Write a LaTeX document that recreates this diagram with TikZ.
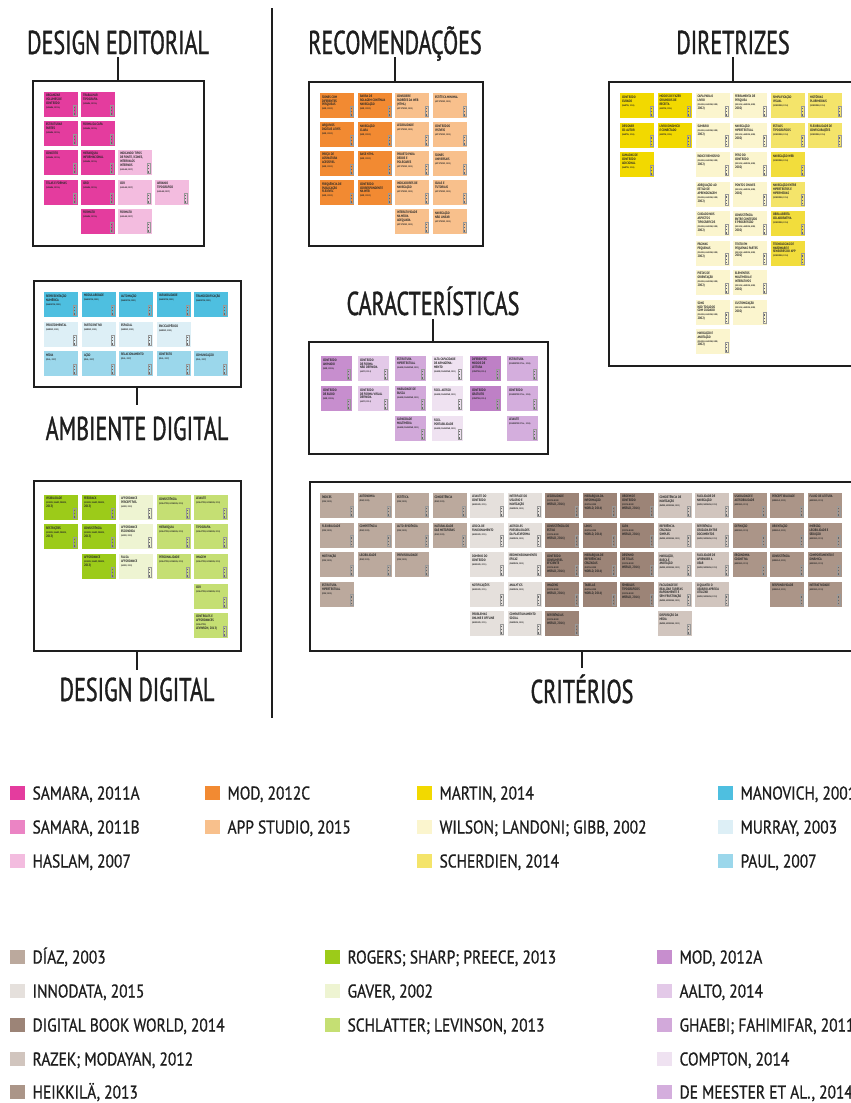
\documentclass[tikz,border=0pt]{standalone}
\usepackage{fontspec}
\setmainfont{PT Sans}
\newfontfamily\headfont[FakeStretch=0.67, FakeBold=1.0]{PT Sans}
\newfontfamily\legfont[FakeStretch=0.835, FakeBold=0.8]{PT Sans}
\newfontfamily\notefont[FakeStretch=0.82]{PT Sans}
\newcommand\reffont{\fontsize{2.2}{2.6}\selectfont}

% source colours
\definecolor{pkA}{HTML}{E43C9E}
\definecolor{pkB}{HTML}{EB84C4}
\definecolor{pkC}{HTML}{F3BCDF}
\definecolor{orA}{HTML}{F28A32}
\definecolor{orB}{HTML}{F8C08C}
\definecolor{yeA}{HTML}{F2D900}
\definecolor{yeB}{HTML}{FBF5CE}
\definecolor{yeC}{HTML}{F4E46A}
\definecolor{yeD}{HTML}{F2DD3C}
\definecolor{blA}{HTML}{4EBFE0}
\definecolor{blB}{HTML}{DDEFF6}
\definecolor{blC}{HTML}{9BD7EB}
\definecolor{taA}{HTML}{BBA99D}
\definecolor{taB}{HTML}{E5E0DC}
\definecolor{taC}{HTML}{9C8477}
\definecolor{taD}{HTML}{D1C5BE}
\definecolor{taE}{HTML}{AB9588}
\definecolor{grA}{HTML}{9CCB19}
\definecolor{grB}{HTML}{EEF4D2}
\definecolor{grC}{HTML}{C5DF73}
\definecolor{puA}{HTML}{C78ECE}
\definecolor{puB}{HTML}{E3C9E8}
\definecolor{puC}{HTML}{D2A9DA}
\definecolor{puD}{HTML}{EFE2F1}
\definecolor{puE}{HTML}{D4AEDD}
\definecolor{puF}{HTML}{BE80C6}
\definecolor{ink}{HTML}{1E1E1E}

\tikzset{
  frame/.style={draw=ink, line width=2.2pt, anchor=north west, inner sep=0pt},
  head/.style={font=\headfont\fontsize{33}{36}\selectfont, text=ink, inner sep=0pt, anchor=base},
  tick/.style={draw=ink, line width=2pt},
  nbox/.style={anchor=north west, minimum width=\notew pt, minimum height=25pt, inner sep=0pt, draw=none},
  ntext/.style={anchor=north west, inner sep=0pt, align=left, text=black!85,
    font=\notefont\bfseries\fontsize{3.4}{3.8}\selectfont},
  strip/.style={draw=black!40, line width=0.3pt},
  legsq/.style={minimum width=15pt, minimum height=14pt, inner sep=0pt, draw=none, anchor=west},
  legtx/.style={anchor=west, inner sep=0pt, text=ink, text height=13pt, text depth=0pt,
    font=\legfont\fontsize{18.5}{20}\selectfont},
}

% one sticky note: x, y (top left), colour, reference, title
\newcounter{nc}
\def\notew{33.4}
\newcommand\nt[5]{%
  \stepcounter{nc}%
  \edef\curnote{\arabic{nc}}%
  \node[nbox, fill=#3] (n\curnote) at (#1,#2) {};
  \node[ntext] (t\curnote) at ([shift={(1.8pt,-2.2pt)}]n\curnote.north west)
    {#5\\[0.2pt]\reffont #4};
  \draw[strip] ([shift={(-4.8pt,1.8pt)}]n\curnote.south east) rectangle ([shift={(-1.8pt,12.5pt)}]n\curnote.south east);
  \fill[black!60] ([shift={(-3.8pt,2.8pt)}]n\curnote.south east) rectangle +(1pt,1.2pt);
  \fill[black!60] ([shift={(-3.8pt,6.1pt)}]n\curnote.south east) rectangle +(1pt,1.2pt);
  \fill[black!60] ([shift={(-3.8pt,9.4pt)}]n\curnote.south east) rectangle +(1pt,1.2pt);
}

% one legend entry: x, y (centre of swatch), colour, text
\newcounter{lc}
\newcommand\leg[4]{%
  \stepcounter{lc}%
  \edef\curleg{\arabic{lc}}%
  \node[legsq, fill=#3] (q\curleg) at (#1,#2) {};
  \node[legtx] (w\curleg) at ([xshift=7pt]q\curleg.east) {#4};
}

\begin{document}
\begin{tikzpicture}[x=1pt, y=-1pt]
\useasboundingbox (0,0) rectangle (851,1103);
\fill[white] (0,0) rectangle (851,1103);

% divider between the two halves
\coordinate (dv1) at (272,8);
\coordinate (dv2) at (272,718);
\draw[tick] (dv1) -- (dv2);

% frames
\node[frame, minimum width=171pt, minimum height=165pt] (de)  at (32,80)  {};
\node[frame, minimum width=207pt, minimum height=106pt] (amb) at (33,280) {};
\node[frame, minimum width=207pt, minimum height=170pt] (dd)  at (33,480) {};
\node[frame, minimum width=174pt, minimum height=164pt] (rec) at (308,81) {};
\node[frame, minimum width=239pt, minimum height=112pt] (car) at (308,341) {};
\node[frame, minimum width=270pt, minimum height=284pt] (dir) at (608,81) {};
\node[frame, minimum width=570pt, minimum height=169pt] (cri) at (309,481) {};

% headings
\node[head] (deT)  at (118,54)  {DESIGN EDITORIAL};
\node[head] (recT) at (395,54)  {RECOMENDAÇÕES};
\node[head] (dirT) at (733,54)  {DIRETRIZES};
\node[head] (carT) at (433,315) {CARACTERÍSTICAS};
\node[head] (ambT) at (137,440) {AMBIENTE DIGITAL};
\node[head] (ddT)  at (137,701) {DESIGN DIGITAL};
\node[head] (criT) at (582,703) {CRITÉRIOS};

% heading ticks
\draw[tick] ([yshift=-3pt]deT.base)  -- (deT.base |- de.north);
\draw[tick] ([yshift=-3pt]recT.base) -- (recT.base |- rec.north);
\draw[tick] ([yshift=-3pt]dirT.base) -- (dirT.base |- dir.north);
\draw[tick] ([yshift=-4pt]carT.base) -- (carT.base |- car.north);
\draw[tick] (ambT.base |- amb.south) -- ([yshift=35pt]ambT.base);
\draw[tick] (ddT.base |- dd.south)   -- ([yshift=31pt]ddT.base);
\draw[tick] (criT.base |- cri.south) -- ([yshift=35pt]criT.base);

% ---------------- design editorial
\def\notew{33.3}
\nt{44}{92}{pkA}{(SAMARA, 2011A)}{ORGANIZAR\\VOLUMES DE\\CONTEÚDO}
\nt{81}{92}{pkA}{(SAMARA, 2011A)}{TRABALHAR\\TIPOGRAFIA}
\nt{44}{121}{pkA}{(SAMARA, 2011A)}{ESTRUTURAR\\PARTES}
\nt{81}{121}{pkA}{(SAMARA, 2011A)}{FORMA DA CAPA}
\nt{44}{150}{pkA}{(SAMARA, 2011A)}{CONCEITO}
\nt{81}{150}{pkA}{(SAMARA, 2011A)}{HIERARQUIA\\INFORMACIONAL}
\nt{118}{150}{pkC}{(HASLAM, 2007)}{INDICANDO TIPOS\\DE FONTE, ÍCONES,\\INTERVALOS\\INTERNOS}
\nt{44}{180}{pkA}{(SAMARA, 2011A)}{TELAS E FORMAS}
\nt{81}{180}{pkA}{(SAMARA, 2011A)}{GRID}
\nt{118}{180}{pkC}{(HASLAM, 2007)}{COR}
\nt{155}{180}{pkC}{(HASLAM, 2007)}{ARRANJO\\TIPOGRÁFICO}
\nt{81}{209}{pkA}{(SAMARA, 2011A)}{FORMATO}
\nt{118}{209}{pkC}{(HASLAM, 2007)}{FORMATO}

% ---------------- ambiente digital
\nt{44}{292}{blA}{(MANOVICH, 2001)}{REPRESENTAÇÃO\\NUMÉRICA}
\nt{82}{292}{blA}{(MANOVICH, 2001)}{MODULARIDADE}
\nt{119}{292}{blA}{(MANOVICH, 2001)}{AUTOMAÇÃO}
\nt{157}{292}{blA}{(MANOVICH, 2001)}{VARIABILIDADE}
\nt{194}{292}{blA}{(MANOVICH, 2001)}{TRANSCODIFICAÇÃO}
\nt{44}{322}{blB}{(MURRAY, 2003)}{PROCEDIMENTAL}
\nt{82}{322}{blB}{(MURRAY, 2003)}{PARTICIPATIVO}
\nt{119}{322}{blB}{(MURRAY, 2003)}{ESPACIAL}
\nt{157}{322}{blB}{(MURRAY, 2003)}{ENCICLOPÉDICO}
\nt{44}{351}{blC}{(PAUL, 2007)}{MÍDIA}
\nt{82}{351}{blC}{(PAUL, 2007)}{AÇÃO}
\nt{119}{351}{blC}{(PAUL, 2007)}{RELACIONAMENTO}
\nt{157}{351}{blC}{(PAUL, 2007)}{CONTEXTO}
\nt{194}{351}{blC}{(PAUL, 2007)}{COMUNICAÇÃO}

% ---------------- design digital
\nt{44}{495}{grA}{(ROGERS; SHARP; PREECE,\\2013)}{VISIBILIDADE}
\nt{44}{524}{grA}{(ROGERS; SHARP; PREECE,\\2013)}{RESTRIÇÕES}
\nt{82}{495}{grA}{(ROGERS; SHARP; PREECE,\\2013)}{FEEDBACK}
\nt{82}{524}{grA}{(ROGERS; SHARP; PREECE,\\2013)}{CONSISTÊNCIA}
\nt{82}{554}{grA}{(ROGERS; SHARP; PREECE,\\2013)}{AFFORDANCE}
\nt{119}{495}{grB}{(GAVER, 2002)}{AFFORDANCE\\PERCEPTÍVEL}
\nt{119}{524}{grB}{(GAVER, 2002)}{AFFORDANCE\\ESCONDIDA}
\nt{119}{554}{grB}{(GAVER, 2002)}{FALSA\\AFFORDANCE}
\nt{157}{495}{grC}{(SCHLATTER; LEVINSON, 2013)}{CONSISTÊNCIA}
\nt{157}{524}{grC}{(SCHLATTER; LEVINSON, 2013)}{HIERARQUIA}
\nt{157}{554}{grC}{(SCHLATTER; LEVINSON, 2013)}{PERSONALIDADE}
\nt{194}{495}{grC}{(SCHLATTER; LEVINSON, 2013)}{LEIAUTE}
\nt{194}{524}{grC}{(SCHLATTER; LEVINSON, 2013)}{TIPOGRAFIA}
\nt{194}{554}{grC}{(SCHLATTER; LEVINSON, 2013)}{IMAGEM}
\nt{194}{584}{grC}{(SCHLATTER; LEVINSON, 2013)}{COR}
\nt{194}{613}{grC}{(SCHLATTER;\\LEVINSON, 2013)}{CONTROLES E\\AFFORDANCES}

% ---------------- recomendações
\def\notew{34.2}
\nt{320}{93}{orA}{(MOD, 2012C)}{ÍCONES COM\\DIFERENTES\\PESQUISAS}
\nt{320}{122}{orA}{(MOD, 2012C)}{ARQUIVOS\\DIGITAIS LEVES}
\nt{320}{151}{orA}{(MOD, 2012C)}{PREÇO DE\\ASSINATURA\\ACESSÍVEL}
\nt{320}{180}{orA}{(MOD, 2012C)}{FREQUÊNCIA DE\\PUBLICAÇÃO\\FLEXÍVEL}
\nt{358}{93}{orA}{(MOD, 2012C)}{BARRA DE\\ROLAGEM CONTÍNUA\\NAVEGAÇÃO}
\nt{358}{122}{orA}{(MOD, 2012C)}{NAVEGAÇÃO\\CLARA}
\nt{358}{151}{orA}{(MOD, 2012C)}{BASE HTML}
\nt{358}{180}{orA}{(MOD, 2012C)}{CONTEÚDO\\CORRESPONDENTE\\NA WEB}
\nt{395}{93}{orB}{(APP STUDIO, 2015)}{CONSIDERE\\PADRÕES DA WEB\\(HTML)}
\nt{395}{122}{orB}{(APP STUDIO, 2015)}{LEGIBILIDADE}
\nt{395}{151}{orB}{(APP STUDIO, 2015)}{PROJETO PARA\\DEDOS E\\POLEGARES}
\nt{395}{180}{orB}{(APP STUDIO, 2015)}{INDICADORES DE\\NAVEGAÇÃO}
\nt{395}{209}{orB}{(APP STUDIO, 2015)}{INTERATIVIDADE\\NA MÍDIA\\ADEQUADA}
\nt{433}{93}{orB}{(APP STUDIO, 2015)}{ESTÉTICA MINIMAL}
\nt{433}{122}{orB}{(APP STUDIO, 2015)}{CONTEÚDOS\\VISÍVEIS}
\nt{433}{151}{orB}{(APP STUDIO, 2015)}{ÍCONES\\UNIVERSAIS}
\nt{433}{180}{orB}{(APP STUDIO, 2015)}{GUIAS E\\TUTORIAIS}
\nt{433}{209}{orB}{(APP STUDIO, 2015)}{NAVEGAÇÃO\\NÃO LINEAR}

% ---------------- características
\def\notew{30.6}
\nt{321}{356}{puA}{(MOD, 2012A)}{CONTEÚDO\\ANIMADO}
\nt{321}{386}{puA}{(MOD, 2012A)}{CONTEÚDO\\DE ÁUDIO}
\nt{358}{356}{puB}{(AALTO, 2014)}{CONTEÚDO\\DE FORMA\\NÃO DEFINIDA}
\nt{358}{386}{puB}{(AALTO, 2014)}{CONTEÚDO\\DE FORMA VISUAL\\DEFINIDA}
\nt{395}{356}{puC}{(GHAEBI; FAHIMIFAR, 2011)}{ESTRUTURA\\HIPERTEXTUAL}
\nt{395}{386}{puC}{(GHAEBI; FAHIMIFAR, 2011)}{HABILIDADE DE\\BUSCA}
\nt{395}{416}{puC}{(GHAEBI; FAHIMIFAR, 2011)}{CAPACIDADE\\MULTIMÍDIA}
\nt{432}{356}{puD}{(GHAEBI; FAHIMIFAR, 2011)}{ALTA CAPACIDADE\\DE ARMAZENA-\\MENTO}
\nt{432}{386}{puD}{(GHAEBI; FAHIMIFAR, 2011)}{FÁCIL ACESSO}
\nt{432}{416}{puD}{(GHAEBI; FAHIMIFAR, 2011)}{FÁCIL\\PORTABILIDADE}
\nt{470}{356}{puF}{(COMPTON, 2014)}{DIFERENTES\\MODOS DE\\LEITURA}
\nt{470}{386}{puF}{(COMPTON, 2014)}{CONTEÚDO\\GRATUITO}
\nt{507}{356}{puE}{(DE MEESTER ET AL., 2014)}{ESTRUTURA}
\nt{507}{386}{puE}{(DE MEESTER ET AL., 2014)}{CONTEÚDO}
\nt{507}{416}{puE}{(DE MEESTER ET AL., 2014)}{LEIAUTE}

% ---------------- diretrizes
\def\notew{34.2}
\nt{620}{93}{yeA}{(MARTIN, 2014)}{CONTEÚDO\\CURADO}
\nt{620}{122.5}{yeA}{(MARTIN, 2014)}{DESIGNER\\CO-AUTOR}
\nt{620}{152}{yeA}{(MARTIN, 2014)}{CAMADAS DE\\CONTEÚDO\\ADICIONAL}
\nt{657.5}{93}{yeA}{(MARTIN, 2014)}{MODOS DE FAZER\\ORIUNDOS DE\\RECEITA}
\nt{657.5}{122.5}{yeA}{(MARTIN, 2014)}{LIVRO DINÂMICO\\E CONECTADO}
\nt{695.5}{93}{yeB}{(WILSON; LANDONI; GIBB,\\2002)}{CAPA PARA O\\LIVRO}
\nt{695.5}{122.5}{yeB}{(WILSON; LANDONI; GIBB,\\2002)}{SUMÁRIO}
\nt{695.5}{152}{yeB}{(WILSON; LANDONI; GIBB,\\2002)}{ÍNDICE REMISSIVO}
\nt{695.5}{181.5}{yeB}{(WILSON; LANDONI; GIBB,\\2002)}{ADEQUAÇÃO AO\\ESTILO DE\\APRENDIZAGEM}
\nt{695.5}{211}{yeB}{(WILSON; LANDONI; GIBB,\\2002)}{CUIDADO NOS\\ASPECTOS\\TIPOGRÁFICOS}
\nt{695.5}{240.5}{yeB}{(WILSON; LANDONI; GIBB,\\2002)}{PÁGINAS\\PEQUENAS}
\nt{695.5}{270}{yeB}{(WILSON; LANDONI; GIBB,\\2002)}{PISTAS DE\\ORIENTAÇÃO}
\nt{695.5}{299.5}{yeB}{(WILSON; LANDONI; GIBB,\\2002)}{SONS\\NÃO TOCADOS\\COM CUIDADO}
\nt{695.5}{329}{yeB}{(WILSON; LANDONI; GIBB,\\2002)}{MARCAÇÃO E\\ANOTAÇÃO}
\nt{733}{93}{yeB}{(WILSON; LANDONI; GIBB,\\2002)}{FERRAMENTA DE\\PESQUISA}
\nt{733}{122.5}{yeB}{(WILSON; LANDONI; GIBB,\\2002)}{NAVEGAÇÃO\\HIPERTEXTUAL}
\nt{733}{152}{yeB}{(WILSON; LANDONI; GIBB,\\2002)}{PESO DO\\CONTEÚDO}
\nt{733}{181.5}{yeB}{(WILSON; LANDONI; GIBB,\\2002)}{PONTOS CHAVES}
\nt{733}{211}{yeB}{(WILSON; LANDONI; GIBB,\\2002)}{CONSISTÊNCIA\\ENTRE CONTEÚDO\\E PROGRESSÃO}
\nt{733}{240.5}{yeB}{(WILSON; LANDONI; GIBB,\\2002)}{TEXTO EM\\PEQUENAS PARTES}
\nt{733}{270}{yeB}{(WILSON; LANDONI; GIBB,\\2002)}{ELEMENTOS\\MULTIMÍDIA E\\INTERATIVOS}
\nt{733}{299.5}{yeB}{(WILSON; LANDONI; GIBB,\\2002)}{CUSTOMIZAÇÃO}
\nt{771}{93}{yeC}{(SCHERDIEN, 2014)}{SIMPLIFICAÇÃO\\VISUAL}
\nt{771}{122.5}{yeC}{(SCHERDIEN, 2014)}{ESTILOS\\TIPOGRÁFICOS}
\nt{771}{152}{yeD}{(SCHERDIEN, 2014)}{NAVEGAÇÃO WEB}
\nt{771}{181.5}{yeC}{(SCHERDIEN, 2014)}{NAVEGAÇÃO ENTRE\\HIPERTEXTOS E\\HIPERMÍDIAS}
\nt{771}{211}{yeD}{(SCHERDIEN, 2014)}{OBRA ABERTA\\COLABORATIVA}
\nt{771}{240.5}{yeD}{(SCHERDIEN, 2014)}{TECNOLOGIAS DE\\HARDWARE E\\SENSORES DO APP}
\nt{808}{93}{yeC}{(SCHERDIEN, 2014)}{HISTÓRIAS\\PLURIMIDIAIS}
\nt{808}{122.5}{yeC}{(SCHERDIEN, 2014)}{FLEXIBILIDADE DE\\CONFIGURAÇÕES}

% ---------------- critérios
\nt{320}{493}{taA}{(DÍAZ, 2003)}{ÍNDICES}
\nt{320}{522.5}{taA}{(DÍAZ, 2003)}{FLEXIBILIDADE}
\nt{320}{552}{taA}{(DÍAZ, 2003)}{MOTIVAÇÃO}
\nt{320}{581.5}{taA}{(DÍAZ, 2003)}{ESTRUTURA\\HIPERTEXTUAL}
\nt{357.5}{493}{taA}{(DÍAZ, 2003)}{AUTONOMIA}
\nt{357.5}{522.5}{taA}{(DÍAZ, 2003)}{COMPETÊNCIA}
\nt{357.5}{552}{taA}{(DÍAZ, 2003)}{LEGIBILIDADE}
\nt{395}{493}{taA}{(DÍAZ, 2003)}{ESTÉTICA}
\nt{395}{522.5}{taA}{(DÍAZ, 2003)}{AUTO-EVIDÊNCIA}
\nt{395}{552}{taA}{(DÍAZ, 2003)}{PREVISIBILIDADE}
\nt{432.5}{493}{taA}{(DÍAZ, 2003)}{CONSISTÊNCIA}
\nt{432.5}{522.5}{taA}{(DÍAZ, 2003)}{NATURALIDADE\\DAS METÁFORAS}
\nt{470}{493}{taB}{(INNODATA, 2015)}{LEIAUTE DO\\CONTEÚDO}
\nt{470}{522.5}{taB}{(INNODATA, 2015)}{LÓGICA DE\\FUNCIONAMENTO}
\nt{470}{552}{taB}{(INNODATA, 2015)}{DOMÍNIO DO\\CONTEÚDO}
\nt{470}{581.5}{taB}{(INNODATA, 2015)}{NOTIFICAÇÕES}
\nt{470}{611}{taB}{(INNODATA, 2015)}{PROBLEMAS\\ONLINE E OFFLINE}
\nt{507.5}{493}{taB}{(INNODATA, 2015)}{INTERFACE DO\\USUÁRIO E\\NAVEGAÇÃO}
\nt{507.5}{522.5}{taB}{(INNODATA, 2015)}{ACESSO ÀS\\POSSIBILIDADES\\DA PLATAFORMA}
\nt{507.5}{552}{taB}{(INNODATA, 2015)}{REDIMENSIONAMENTO\\EFICAZ}
\nt{507.5}{581.5}{taB}{(INNODATA, 2015)}{ANALYTICS}
\nt{507.5}{611}{taB}{(INNODATA, 2015)}{COMPARTILHAMENTO\\SOCIAL}
\nt{545}{493}{taC}{(DIGITAL BOOK\\WORLD, 2014)}{LEGIBILIDADE}
\nt{545}{522.5}{taC}{(DIGITAL BOOK\\WORLD, 2014)}{CONSISTÊNCIA DO\\ESTILO}
\nt{545}{552}{taC}{(DIGITAL BOOK\\WORLD, 2014)}{CONTEÚDO\\CONSUMÍVEL\\EFICIENTE}
\nt{545}{581.5}{taC}{(DIGITAL BOOK\\WORLD, 2014)}{IMAGENS}
\nt{545}{611}{taC}{(DIGITAL BOOK\\WORLD, 2014)}{REFERÊNCIAS}
\nt{582.5}{493}{taC}{(DIGITAL BOOK\\WORLD, 2014)}{HIERARQUIA DA\\INFORMAÇÃO}
\nt{582.5}{522.5}{taC}{(DIGITAL BOOK\\WORLD, 2014)}{LINKS}
\nt{582.5}{552}{taC}{(DIGITAL BOOK\\WORLD, 2014)}{HIERARQUIA DE\\REFERÊNCIAS\\CRUZADAS}
\nt{582.5}{581.5}{taC}{(DIGITAL BOOK\\WORLD, 2014)}{TABELAS}
\nt{620}{493}{taC}{(DIGITAL BOOK\\WORLD, 2014)}{ORDEM DE\\CONTEÚDO}
\nt{620}{522.5}{taC}{(DIGITAL BOOK\\WORLD, 2014)}{CAPA}
\nt{620}{552}{taC}{(DIGITAL BOOK\\WORLD, 2014)}{DESENHO\\DE TELAS}
\nt{620}{581.5}{taC}{(DIGITAL BOOK\\WORLD, 2014)}{SÍMBOLOS\\TIPOGRÁFICOS}
\nt{657.5}{493}{taD}{(RAZEK; MODAYAN, 2012)}{CONSISTÊNCIA DE\\NAVEGAÇÃO}
\nt{657.5}{522.5}{taD}{(RAZEK; MODAYAN, 2012)}{REFERÊNCIA\\CRUZADA\\SIMPLES}
\nt{657.5}{552}{taD}{(RAZEK; MODAYAN, 2012)}{MARCAÇÃO,\\BUSCA E\\ANOTAÇÃO}
\nt{657.5}{581.5}{taD}{(RAZEK; MODAYAN, 2012)}{FACILIDADE DE\\REALIZAR TAREFAS\\RAPIDAMENTE E\\SEM FRUSTRAÇÃO}
\nt{657.5}{611}{taD}{(RAZEK; MODAYAN, 2012)}{DISPOSIÇÃO DA\\MÍDIA}
\nt{695}{493}{taD}{(RAZEK; MODAYAN, 2012)}{FACILIDADE DE\\NAVEGAÇÃO}
\nt{695}{522.5}{taD}{(RAZEK; MODAYAN, 2012)}{REFERÊNCIA\\CRUZADA ENTRE\\DOCUMENTOS}
\nt{695}{552}{taD}{(RAZEK; MODAYAN, 2012)}{FACILIDADE DE\\APRENDER A\\USAR}
\nt{695}{581.5}{taD}{(RAZEK; MODAYAN, 2012)}{O QUANTO O\\USUÁRIO APRECIA\\UTILIZAR}
\nt{732.5}{493}{taE}{(HEIKKILÄ, 2013)}{USABILIDADE E\\ACESSIBILIDADE}
\nt{732.5}{522.5}{taE}{(HEIKKILÄ, 2013)}{DEFINIÇÃO}
\nt{732.5}{552}{taE}{(HEIKKILÄ, 2013)}{ERGONOMIA\\COGNITIVA}
\nt{770}{493}{taE}{(HEIKKILÄ, 2013)}{PERCEPTIBILIDADE}
\nt{770}{522.5}{taE}{(HEIKKILÄ, 2013)}{ORIENTAÇÃO}
\nt{770}{552}{taE}{(HEIKKILÄ, 2013)}{CONSISTÊNCIA}
\nt{770}{581.5}{taE}{(HEIKKILÄ, 2013)}{RESPONSIVIDADE}
\nt{807.5}{493}{taE}{(HEIKKILÄ, 2013)}{FLUXO DE LEITURA}
\nt{807.5}{522.5}{taE}{(HEIKKILÄ, 2013)}{IMERSÃO,\\LEGIBILIDADE E\\SEDUÇÃO}
\nt{807.5}{552}{taE}{(HEIKKILÄ, 2013)}{COMPORTAMENTO E\\DINÂMICA}
\nt{807.5}{581.5}{taE}{(HEIKKILÄ, 2013)}{INTERATIVIDADE}

% ---------------- legend
\leg{10}{793}{pkA}{SAMARA, 2011A}
\leg{10}{827}{pkB}{SAMARA, 2011B}
\leg{10}{861}{pkC}{HASLAM, 2007}
\leg{205}{793}{orA}{MOD, 2012C}
\leg{205}{827}{orB}{APP STUDIO, 2015}
\leg{417}{793}{yeA}{MARTIN, 2014}
\leg{417}{827}{yeB}{WILSON; LANDONI; GIBB, 2002}
\leg{417}{861}{yeC}{SCHERDIEN, 2014}
\leg{718}{793}{blA}{MANOVICH, 2001}
\leg{718}{827}{blB}{MURRAY, 2003}
\leg{718}{861}{blC}{PAUL, 2007}
\leg{10}{957}{taA}{DÍAZ, 2003}
\leg{10}{991}{taB}{INNODATA, 2015}
\leg{10}{1025}{taC}{DIGITAL BOOK WORLD, 2014}
\leg{10}{1059}{taD}{RAZEK; MODAYAN, 2012}
\leg{10}{1092}{taE}{HEIKKILÄ, 2013}
\leg{325}{957}{grA}{ROGERS; SHARP; PREECE, 2013}
\leg{325}{991}{grB}{GAVER, 2002}
\leg{325}{1025}{grC}{SCHLATTER; LEVINSON, 2013}
\leg{657}{957}{puA}{MOD, 2012A}
\leg{657}{991}{puB}{AALTO, 2014}
\leg{657}{1025}{puC}{GHAEBI; FAHIMIFAR, 2011}
\leg{657}{1059}{puD}{COMPTON, 2014}
\leg{657}{1092}{puE}{DE MEESTER ET AL., 2014}
\end{tikzpicture}
\end{document}
